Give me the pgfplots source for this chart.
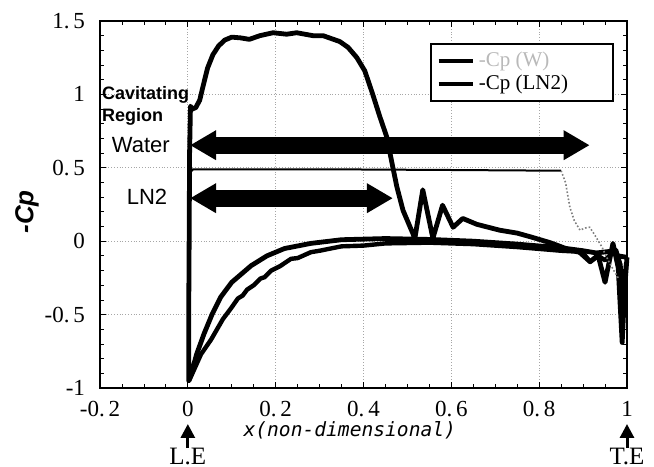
\documentclass[border=0pt]{standalone}
\usepackage{fontspec}
\setmainfont{Liberation Serif}
\newfontfamily\arial{Liberation Sans}
\newfontfamily\gothic{DejaVu Sans Mono}
\usepackage{pgfplots}
\pgfplotsset{compat=1.18}
\usetikzlibrary{arrows.meta,calc}

\begin{document}
\begin{tikzpicture}
\begin{axis}[
    name=ax,
    scale only axis,
    width=263.5pt, height=183.5pt,
    xmin=-0.2, xmax=1, ymin=-1, ymax=1.5,
    xtick={-0.2,0,0.2,0.4,0.6,0.8,1},
    xticklabels={-0.\,2,0,0.\,2,0.\,4,0.\,6,0.\,8,1},
    ytick={-1,-0.5,0,0.5,1,1.5},
    yticklabels={-1,-0.\,5,0,0.\,5,1,1.\,5},
    minor x tick num=3, minor y tick num=4,
    grid=major,
    major grid style={densely dotted, gray!70, line width=0.5pt},
    axis line style={line width=0.6pt},
    tick style={black, line width=0.4pt},
    major tick length=3pt, minor tick length=2pt,
    ticklabel style={font=\fontsize{11.5}{11.5}\selectfont},
    xticklabel style={yshift=-3pt},
    yticklabel style={xshift=-4pt},
    xlabel={\gothic\itshape x(non-dimensional)},
    xlabel style={at={(axis description cs:0.474,-0.114)}, anchor=center, font=\fontsize{9.8}{10}\selectfont},
    ylabel={\arial\bfseries\itshape -Cp},
    ylabel style={at={(axis description cs:-0.1385,0.48)}, anchor=center, font=\fontsize{13}{13}\selectfont},
    clip=false,
    legend style={at={(0.626,0.94)}, anchor=north west, draw=black, line width=0.8pt,
        font=\fontsize{10.5}{11}\selectfont, inner xsep=3pt, inner ysep=2pt, row sep=-1pt},
    legend cell align=left,
]
\addlegendimage{black, line width=2pt}
\addlegendentry{\makebox[62pt][l]{\textcolor{gray!55}{-Cp (W)}}}
\addlegendimage{black, line width=2pt}
\addlegendentry{\makebox[62pt][l]{-Cp (LN2)}}
% water: suction side from T.E. to L.E., then pressure side back to T.E.
\addplot[black, line width=2.4pt, line join=round, forget plot] coordinates {
 (1.0,-0.11) (0.995,-0.31) (0.989,-0.69) (0.98,-0.18) (0.968,-0.015) (0.95,-0.28)
 (0.934,-0.095) (0.916,-0.14) (0.89,-0.07) (0.87,-0.06) (0.825,-0.01) (0.78,0.03)
 (0.75,0.055) (0.71,0.075) (0.658,0.115) (0.626,0.155) (0.604,0.095) (0.58,0.245)
 (0.558,0.02) (0.535,0.35) (0.517,0.02) (0.49,0.21) (0.476,0.37) (0.465,0.53)
 (0.453,0.71) (0.437,0.85) (0.42,1.01) (0.403,1.16) (0.385,1.25) (0.365,1.32)
 (0.346,1.36) (0.308,1.40) (0.285,1.40) (0.248,1.42) (0.225,1.41) (0.194,1.42)
 (0.164,1.40) (0.14,1.375) (0.12,1.385) (0.10,1.39) (0.084,1.37) (0.07,1.33)
 (0.057,1.27) (0.045,1.18) (0.035,1.06) (0.027,0.96) (0.018,0.91) (0.01,0.90) (0.006,0.92)
 (0.004,0.6) (0.003,0) (0.002,-0.5) (0.002,-0.95)
 (0.01,-0.88) (0.02,-0.77) (0.037,-0.63) (0.055,-0.5) (0.075,-0.38) (0.1,-0.28)
 (0.144,-0.167) (0.18,-0.1) (0.22,-0.05) (0.28,-0.015) (0.35,0.01) (0.45,0.018)
 (0.55,0.012) (0.65,0.0) (0.75,-0.02) (0.85,-0.045) (0.9,-0.065) (0.93,-0.08)
 (0.96,-0.07) (0.98,-0.1) (1.0,-0.11)
};
% LN2: pressure side
\addplot[black, line width=2.2pt, line join=round, forget plot] coordinates {
 (0.003,-0.95) (0.015,-0.87) (0.03,-0.77) (0.053,-0.67) (0.08,-0.53) (0.1,-0.45)
 (0.114,-0.39) (0.125,-0.37) (0.135,-0.33) (0.15,-0.30) (0.165,-0.255) (0.175,-0.245)
 (0.19,-0.20) (0.21,-0.17) (0.235,-0.12) (0.25,-0.115) (0.28,-0.075) (0.3,-0.065)
 (0.35,-0.035) (0.4,-0.03) (0.45,-0.015) (0.55,-0.01) (0.65,-0.02) (0.75,-0.04)
 (0.85,-0.065) (0.88,-0.07) (0.9,-0.08) (0.916,-0.14) (0.935,-0.10) (0.95,-0.13)
 (0.96,-0.1) (0.975,-0.06) (0.985,-0.16) (0.992,-0.4) (0.998,-0.15)
};
% LN2: suction side (cavity)
\addplot[black, line width=1pt, forget plot] coordinates {
 (0.85,0.48) (0.6,0.485) (0.3,0.49) (0.1,0.49) (0.012,0.49) (0.006,0.47) (0.004,0.3) (0.003,-0.95)
};
\addplot[gray, densely dotted, line width=0.8pt, forget plot] coordinates {
 (0.85,0.48) (0.86,0.40) (0.87,0.23) (0.88,0.14) (0.893,0.075) (0.905,0.09)
 (0.915,0.095) (0.925,0.05) (0.943,-0.04) (0.957,-0.13) (0.97,-0.2) (0.98,-0.25)
};
% annotations
\draw[line width=8.5pt, {Triangle[width=14pt,length=13pt]}-{Triangle[width=14pt,length=13pt]}]
 (axis cs:0.005,0.654) -- (axis cs:0.915,0.654);
\draw[line width=8.5pt, {Triangle[width=14pt,length=13pt]}-{Triangle[width=14pt,length=13pt]}]
 (axis cs:0.005,0.293) -- (axis cs:0.467,0.293);
\node[anchor=north west, align=left, inner sep=0pt, font=\arial\bfseries\fontsize{9}{11}\selectfont]
 at (axis cs:-0.196,1.06) {Cavitating\\Region};
\node[font=\arial\fontsize{11}{11}\selectfont] at (axis cs:-0.107,0.654) {Water};
\node[font=\arial\fontsize{11}{11}\selectfont] at (axis cs:-0.093,0.30) {LN2};
\coordinate (le) at (axis cs:0,-1);
\coordinate (te) at (axis cs:1,-1);
\end{axis}
\draw[line width=1.5pt, -{Triangle[width=7pt,length=7pt]}] ($(le)+(0,-30pt)$) -- ($(le)+(0,-18pt)$);
\draw[line width=1.5pt, -{Triangle[width=7pt,length=7pt]}] ($(te)+(0,-30pt)$) -- ($(te)+(0,-18pt)$);
\node[font=\fontsize{12.5}{12.5}\selectfont, inner sep=1pt] at ($(le)+(0,-34pt)$) {L.E};
\node[font=\fontsize{12.5}{12.5}\selectfont, inner sep=1pt] at ($(te)+(0,-34pt)$) {T.E};
\path ($(ax.south west)+(-50pt,-36.5pt)$) rectangle ($(ax.north east)+(13.5pt,10.5pt)$);
\end{tikzpicture}
\end{document}
